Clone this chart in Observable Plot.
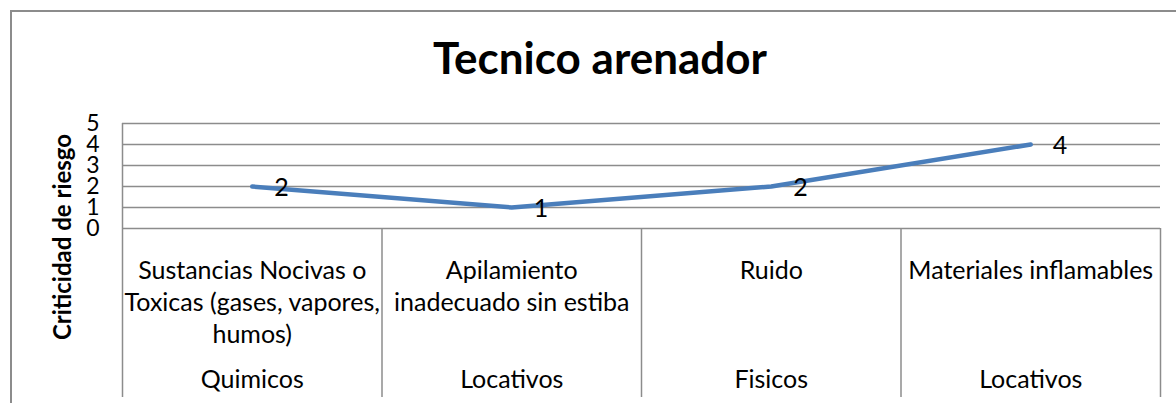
<!DOCTYPE html>
<html><head><meta charset="utf-8">
<script src="https://cdn.jsdelivr.net/npm/d3@7"></script>
<script src="https://cdn.jsdelivr.net/npm/@observablehq/plot@0.6"></script>
<style>
body{margin:0;background:#fff;font-family:Lato,sans-serif;}
#wrap{position:relative;width:1176px;height:403px;overflow:hidden;}
#border{position:absolute;left:10px;top:10px;width:1300px;height:600px;border-left:2px solid #8c8c8c;border-top:2px solid #8c8c8c;}
#title{position:absolute;left:11px;width:1178px;top:35px;text-align:center;font-weight:bold;font-size:44px;line-height:44px;color:#000;}
#ylabel{position:absolute;left:61px;top:237px;transform:translate(-50%,-50%) rotate(-90deg);white-space:nowrap;font-weight:bold;font-size:24px;color:#000;}
#chart{position:absolute;left:0;top:0;}
</style></head>
<body>
<div id="wrap"><div id="border"></div><div id="chart"></div><div id="title"></div><div id="ylabel"></div></div>
<script>
const title = "Tecnico arenador";
const yLabel = "Criticidad de riesgo";
const categories = ["Sustancias Nocivas o\nToxicas (gases, vapores,\nhumos)", "Apilamiento\ninadecuado sin estiba", "Ruido", "Materiales inflamables"];
const groups = ["Quimicos", "Locativos", "Fisicos", "Locativos"];
const values = [2, 1, 2, 4];
const yTicks = [0, 1, 2, 3, 4, 5];

document.getElementById("title").textContent = title;
document.getElementById("ylabel").textContent = yLabel;

const boundaries = d3.range(categories.length + 1).map(i => i - 0.5);
const gray = "#8c8c8c";

const chart = Plot.plot({
  width: 1176, height: 403,
  marginLeft: 122, marginRight: 16, marginTop: 123, marginBottom: 175,
  x: {domain: [-0.5, categories.length - 0.5], axis: null},
  y: {domain: [0, 5]},
  style: {fontFamily: "Lato, sans-serif", color: "#000", background: "transparent", overflow: "visible"},
  marks: [
    Plot.ruleY(yTicks, {stroke: gray, strokeWidth: 1.5}),
    Plot.ruleX(boundaries.slice(0, 1), {stroke: gray, strokeWidth: 1.5, insetBottom: -169}),
    Plot.ruleX(boundaries.slice(1), {stroke: gray, strokeWidth: 1.5, insetTop: 105, insetBottom: -169}),
    Plot.axisY({ticks: yTicks, tickFormat: "d", tickSize: 0, tickPadding: 23, fontSize: 23, label: null}),
    Plot.line(values, {x: (d, i) => i, y: d => d, stroke: "#4a7ebb", strokeWidth: 4.5}),
    Plot.text(values, {x: (d, i) => i, y: d => d, text: d => String(d), dx: 22, dy: 1, textAnchor: "start", fontSize: 25}),
    Plot.text(categories, {x: (d, i) => i, y: 0, text: d => d, lineAnchor: "top", dy: 27.6, fontSize: 25, lineHeight: 1.28}),
    Plot.text(groups, {x: (d, i) => i, y: 0, text: d => d, lineAnchor: "top", dy: 142, fontSize: 25})
  ]
});
document.getElementById("chart").appendChild(chart);
</script>
</body></html>
